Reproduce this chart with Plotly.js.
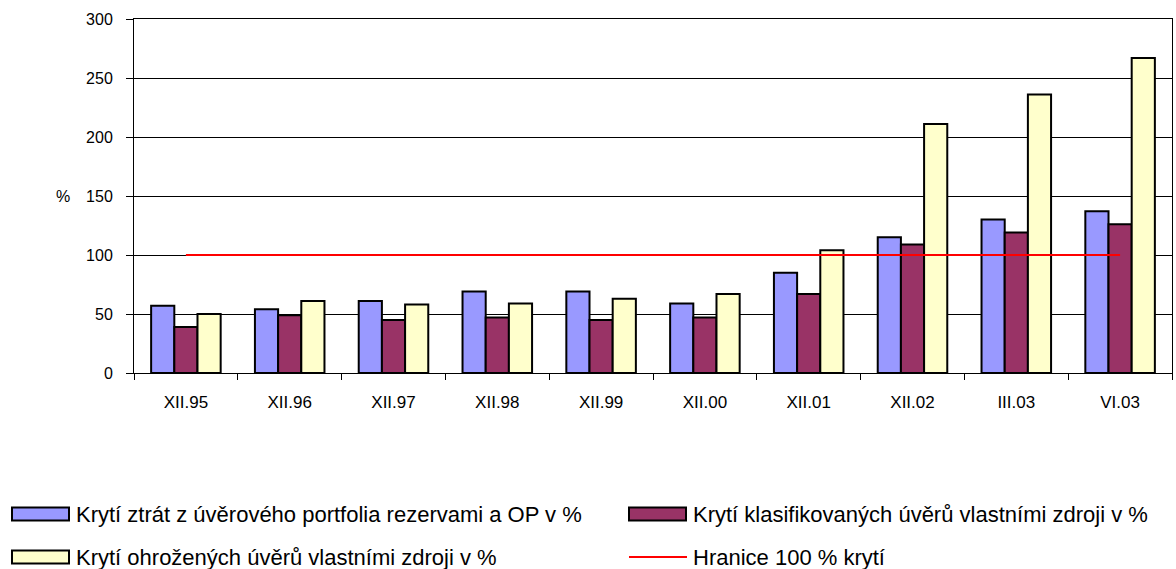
<!DOCTYPE html>
<html>
<head>
<meta charset="utf-8">
<script src="https://cdn.plot.ly/plotly-3.0.1.min.js"></script>
<style>
  html, body { margin: 0; padding: 0; background: #fff; }
  #chart { width: 1176px; height: 569px; }
</style>
</head>
<body>
<div id="chart"></div>
<script>
// Categories (report dates)
const periods = ['XII.95', 'XII.96', 'XII.97', 'XII.98', 'XII.99', 'XII.00', 'XII.01', 'XII.02', 'III.03', 'VI.03'];

// Series values in %
const lossCoverage = [57, 54, 61, 69, 69, 59, 85, 115, 130, 137];
const classifiedCoverage = [39, 49, 45, 47, 45, 47, 67, 109, 119, 126];
const endangeredCoverage = [50, 61, 58, 59, 63, 67, 104, 211, 236, 267];
const limitLine = [100, 100, 100, 100, 100, 100, 100, 100, 100, 100];

const seriesNames = [
  'Krytí ztrát z úvěrového portfolia rezervami a OP v %',
  'Krytí klasifikovaných úvěrů vlastními zdroji v %',
  'Krytí ohrožených úvěrů vlastními zdroji v %',
  'Hranice 100 % krytí',
];
const seriesColors = ['#9999FF', '#993366', '#FFFFCC', '#FF0000'];

const yTicks = [0, 50, 100, 150, 200, 250, 300];

const font = "Arial, 'Liberation Sans', sans-serif";
const barOutline = { color: '#000000', width: 2 };

// plot area in pixels (used to place the hand-made legend below it)
const W = 1176, H = 569;
const M = { l: 134, r: 4, t: 19, b: 196 };
const plotW = W - M.l - M.r;
const plotH = H - M.t - M.b;
const px = x => (x - M.l) / plotW;
const py = y => (H - M.b - y) / plotH;

const data = [0, 1, 2].map(i => ({
  x: periods,
  y: [lossCoverage, classifiedCoverage, endangeredCoverage][i],
  type: 'bar',
  name: seriesNames[i],
  showlegend: false,
  marker: { color: seriesColors[i], line: barOutline },
}));
data.push({
  x: periods, y: limitLine, type: 'scatter', mode: 'lines', name: seriesNames[3],
  showlegend: false,
  line: { color: seriesColors[3], width: 2 },
});

// Legend: two columns, two rows, Excel-like wide swatches
const legendCols = [12, 629];
const legendRows = [514, 557];
const shapes = [];
const annotations = [];
seriesNames.forEach((name, i) => {
  const x0 = legendCols[i % 2];
  const yc = legendRows[Math.floor(i / 2)];
  if (i < 3) {
    shapes.push({
      type: 'rect', xref: 'paper', yref: 'paper',
      x0: px(x0), x1: px(x0 + 57), y0: py(yc - 6.5), y1: py(yc + 6.5),
      fillcolor: seriesColors[i], line: { color: '#000000', width: 2 },
    });
  } else {
    shapes.push({
      type: 'line', xref: 'paper', yref: 'paper',
      x0: px(x0), x1: px(x0 + 58), y0: py(yc), y1: py(yc),
      line: { color: seriesColors[i], width: 2 },
    });
  }
  annotations.push({
    text: name, xref: 'paper', yref: 'paper',
    x: px(x0 + 62), y: py(yc), xanchor: 'left', yanchor: 'middle',
    showarrow: false, font: { size: 22, family: font },
  });
});

annotations.push({
  text: '%', xref: 'paper', yref: 'y', x: px(54), y: 150,
  showarrow: false, font: { size: 16, family: font },
});

const layout = {
  width: W,
  height: H,
  font: { family: font, size: 16, color: '#000000' },
  paper_bgcolor: '#FFFFFF',
  plot_bgcolor: '#FFFFFF',
  margin: M,
  barmode: 'group',
  bargap: 0.33,
  bargroupgap: 0,
  hovermode: false,
  showlegend: false,
  xaxis: {
    type: 'category',
    showline: true, linecolor: '#000000', linewidth: 1, mirror: true,
    ticks: 'outside', tickson: 'boundaries', ticklen: 6, tickcolor: '#000000',
    showgrid: false,
    tickfont: { size: 17 },
    ticklabelstandoff: 14,
  },
  yaxis: {
    range: [0, 300],
    tickvals: yTicks,
    showline: true, linecolor: '#000000', linewidth: 1, mirror: true,
    ticks: 'outside', ticklen: 7, tickcolor: '#000000',
    showgrid: true, gridcolor: '#000000', gridwidth: 1,
    zeroline: false,
    tickfont: { size: 16 },
    ticklabelstandoff: 10,
  },
  shapes,
  annotations,
};

Plotly.newPlot('chart', data, layout, { staticPlot: true });
</script>
</body>
</html>
